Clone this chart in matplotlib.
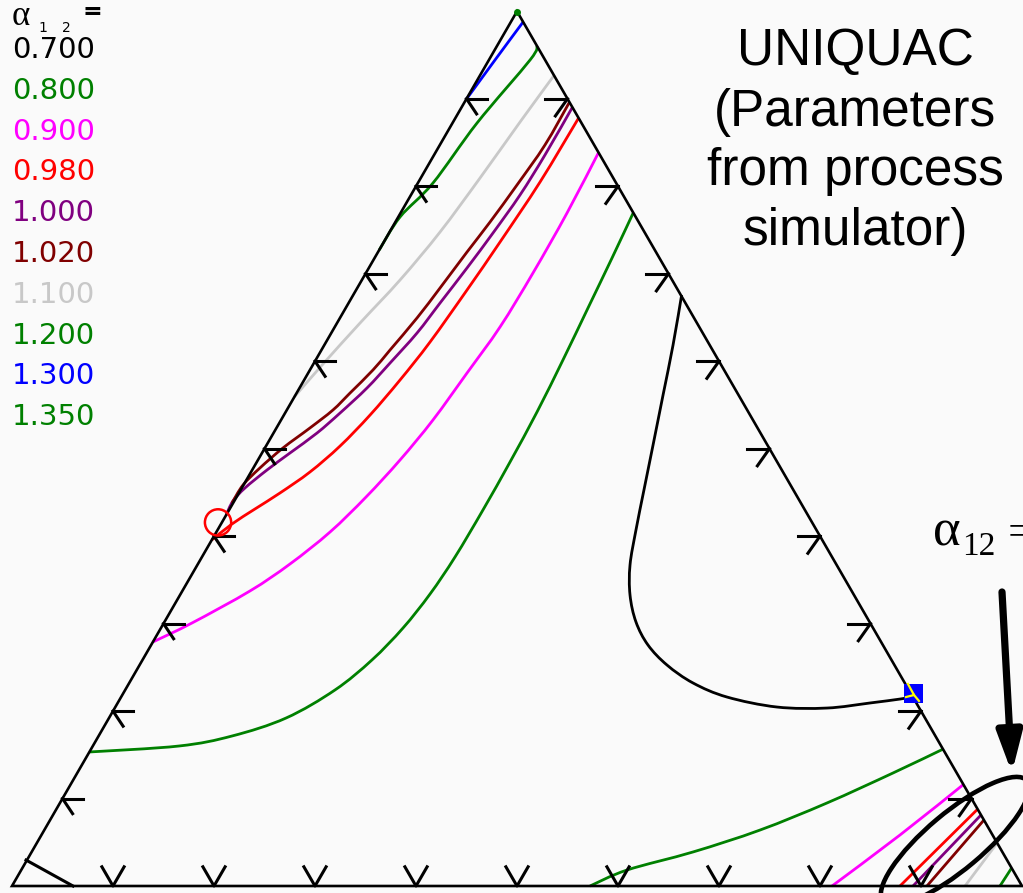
import matplotlib
matplotlib.use("Agg")
import matplotlib.pyplot as plt
from matplotlib.patches import Ellipse, Circle, Rectangle, Polygon, PathPatch
from matplotlib.path import Path

# ---- legend data ----
alpha_labels = ["0.700", "0.800", "0.900", "0.980", "1.000", "1.020", "1.100", "1.200", "1.300", "1.350"]
alpha_colors = ["#000000", "#008000", "#ff00ff", "#ff0000", "#800080", "#800000", "#c8c8c8", "#008000", "#0000ff", "#008000"]

# ---- curves (ternary plot coordinates, side = 100) ----
a0700_x = [66.3, 65.45, 64.46, 63.47, 62.57, 61.78, 61.19, 61.19, 61.78, 62.97, 64.85, 67.43, 70.79, 75.74, 80.69, 84.95, 87.92, 89.11]
a0700_y = [58.51, 53.56, 48.61, 43.66, 39.21, 35.25, 31.78, 28.81, 26.14, 23.86, 21.88, 20.10, 18.71, 17.72, 17.62, 18.12, 18.51, 18.71]

a0800_x = [61.5, 59.41, 57.03, 54.55, 51.98, 49.31, 46.63, 43.86, 41.39, 38.71, 35.64, 31.98, 27.13, 21.78, 16.53, 7.66]
a0800_y = [66.63, 62.18, 57.23, 52.08, 46.93, 41.98, 37.23, 32.57, 28.91, 25.54, 22.38, 19.41, 16.63, 14.85, 13.86, 13.27]
a0800b_x = [92.2, 87.23, 80.69, 74.06, 67.43, 60.89, 57.23]
a0800b_y = [13.56, 11.19, 8.22, 5.54, 3.37, 1.58, 0.0]

a0900_x = [58.1, 54.95, 51.58, 48.32, 45.05, 41.68, 38.42, 35.05, 31.49, 27.52, 23.56, 17.82, 13.95]
a0900_y = [72.67, 66.63, 60.69, 55.35, 50.79, 46.14, 42.18, 38.51, 35.05, 31.88, 29.21, 26.04, 24.16]
a0900b_x = [94.2, 87.92, 81.19]
a0900b_y = [10.05, 5.05, 0.0]

a0980_x = [56.1, 52.28, 48.32, 45.05, 41.39, 38.42, 35.45, 32.48, 29.50, 26.53, 24.06, 21.78, 19.78]
a0980_y = [76.04, 69.70, 63.76, 59.01, 53.86, 50.10, 46.63, 43.56, 40.99, 38.91, 37.33, 35.84, 34.26]
a0980b_x = [95.6, 87.92]
a0980b_y = [7.6, 0.0]

a1000_x = [55.5, 52.77, 50.30, 47.62, 45.05, 42.38, 40.10, 37.43, 35.15, 32.48, 30.20, 27.52, 25.25, 23.07, 21.88, 21.2]
a1000_y = [77.13, 72.38, 68.42, 64.65, 61.19, 57.72, 54.75, 51.78, 49.31, 46.83, 44.85, 42.87, 41.19, 39.41, 38.12, 36.73]
a1000b_x = [95.94, 89.21]
a1000b_y = [7.03, 0.0]

a1020_x = [55.2, 52.77, 50.0, 47.33, 45.05, 42.38, 40.10, 37.43, 35.74, 33.47, 31.78, 29.50, 26.83, 24.55, 22.87, 21.78]
a1020_y = [77.62, 73.37, 69.41, 65.74, 62.77, 59.21, 56.24, 53.07, 51.09, 48.81, 47.13, 45.35, 43.37, 41.39, 39.70, 37.92]
a1020b_x = [96.23, 90.59]
a1020b_y = [6.53, 0.0]

a1100_x = [53.7, 50.30, 46.34, 42.38, 38.42, 34.46, 30.79, 27.95]
a1100_y = [80.30, 75.64, 70.10, 64.75, 60.00, 55.74, 51.68, 48.42]
a1100b_x = [97.54, 94.36]
a1100b_y = [4.26, 0.0]

a1200_x = [52.0, 51.29, 46.04, 41.68, 38.42, 36.36]
a1200_y = [83.17, 81.78, 75.54, 69.60, 66.24, 62.97]
a1200b_x = [98.97, 97.82]
a1200b_y = [1.78, 0.0]

a1300_x = [44.93, 47.82, 50.6]
a1300_y = [77.82, 81.78, 85.54]

a1350_x = [50.0]
a1350_y = [86.5]

# edge arrow ticks at fractions along edges
tick_fracs = [0.1, 0.2, 0.3, 0.4, 0.5, 0.6, 0.7, 0.8, 0.9]


def smooth_path(xs, ys):
    pts = list(zip(xs, ys))
    if len(pts) < 3:
        return Path(pts)
    verts = [pts[0]]
    codes = [Path.MOVETO]
    n = len(pts)
    for i in range(n - 1):
        p0 = pts[i - 1] if i > 0 else pts[i]
        p1 = pts[i]
        p2 = pts[i + 1]
        p3 = pts[i + 2] if i + 2 < n else pts[i + 1]
        c1 = (p1[0] + (p2[0] - p0[0]) / 6.0, p1[1] + (p2[1] - p0[1]) / 6.0)
        c2 = (p2[0] - (p3[0] - p1[0]) / 6.0, p2[1] - (p3[1] - p1[1]) / 6.0)
        verts += [c1, c2, p2]
        codes += [Path.CURVE4] * 3
    return Path(verts, codes)


H = 86.6025
fig = plt.figure(figsize=(10.23, 8.93), dpi=100)
fig.patch.set_facecolor("#fafafa")
ax = fig.add_axes([0, 0, 1, 1])
ax.set_facecolor("#fafafa")
ax.set_xlim(-1.188, 100.099)
ax.set_ylim(-0.693, 87.723)
ax.axis("off")

# triangle
ax.add_patch(Polygon([[0, 0], [100, 0], [50, H]], closed=True, fill=False,
                     edgecolor="black", lw=1.9, zorder=5))

# ticks
for f in tick_fracs:
    lx, ly = 50 * f, H * f
    ax.plot([lx, lx + 2.0], [ly, ly], color="black", lw=2.2, zorder=5)
    ax.plot([lx, lx + 1.0], [ly, ly - 1.5], color="black", lw=2.2, zorder=5)
    rx, ry = 100 - 50 * f, H * f
    ax.plot([rx, rx - 2.2], [ry, ry], color="black", lw=2.2, zorder=5)
    ax.plot([rx, rx - 1.2], [ry, ry - 1.7], color="black", lw=2.2, zorder=5)
    bx = 100 * f
    ax.plot([bx - 1.1, bx, bx + 1.1], [1.9, 0, 1.9], color="black", lw=2.2, zorder=5)

# corner mark at left vertex
ax.plot([1.39, 6.04], [2.57, 0.0], color="black", lw=2.2, zorder=5)

curves = [
    (a0700_x, a0700_y, 0), (a0800_x, a0800_y, 1), (a0800b_x, a0800b_y, 1),
    (a0900_x, a0900_y, 2), (a0900b_x, a0900b_y, 2),
    (a0980_x, a0980_y, 3), (a0980b_x, a0980b_y, 3),
    (a1000_x, a1000_y, 4), (a1000b_x, a1000b_y, 4),
    (a1020_x, a1020_y, 5), (a1020b_x, a1020b_y, 5),
    (a1100_x, a1100_y, 6), (a1100b_x, a1100b_y, 6),
    (a1200_x, a1200_y, 7), (a1200b_x, a1200b_y, 7),
    (a1300_x, a1300_y, 8),
]
for xs, ys, ci in curves:
    ax.add_patch(PathPatch(smooth_path(xs, ys), fill=False, edgecolor=alpha_colors[ci],
                           lw=2.0, zorder=4, capstyle="butt"))
ax.plot(a1350_x, a1350_y, "o", color=alpha_colors[9], ms=4, zorder=6)

# markers: red circle, blue square with yellow
ax.add_patch(Circle((20.4, 36.0), 1.3, fill=False, edgecolor="red", lw=1.8, zorder=6))
ax.add_patch(Rectangle((88.32, 18.12), 1.85, 1.9, facecolor="#0000ff", edgecolor="none", zorder=6))
ax.plot([88.71, 89.31, 88.51], [20.0, 18.91, 18.71], color="yellow", lw=1.6, zorder=7)
ax.plot([89.31, 89.80], [18.91, 18.32], color="yellow", lw=1.6, zorder=7)

# ellipse and arrow
ax.add_patch(Ellipse((93.37, 4.45), 18.6, 5.6, angle=40, fill=False, edgecolor="black", lw=3.3, zorder=8))
ax.annotate("", xy=(99.0, 11.2), xytext=(98.02, 29.11),
            arrowprops=dict(arrowstyle="-|>,head_length=2.4,head_width=0.75", lw=5.2, color="black",
                            shrinkA=0, shrinkB=0), zorder=8)

# right annotation text
ax.text(91.2, 33.76, "α", fontsize=38, family="Liberation Serif",
        ha="left", va="baseline", color="black", zorder=9)
ax.text(94.1, 32.77, "12", fontsize=24, family="Liberation Serif",
        ha="left", va="baseline", color="black", zorder=9)
ax.text(98.6, 33.76, "=", fontsize=34, family="Liberation Serif",
        ha="left", va="baseline", color="black", zorder=9)

# legend header
ax.text(0.0, 85.25, "α", fontsize=25, family="Liberation Serif", ha="left", va="baseline")
ax.text(2.57, 84.55, "1", fontsize=10, family="DejaVu Sans", ha="left", va="baseline")
ax.text(4.95, 84.55, "2", fontsize=10, family="DejaVu Sans", ha="left", va="baseline")
ax.text(7.0, 85.84, "=", fontsize=17, family="DejaVu Sans", weight="bold", ha="left", va="baseline")

for i, (lab, col) in enumerate(zip(alpha_labels, alpha_colors)):
    base_px = 58 + 40.8 * i
    ax.text(0.0, (886 - base_px) / 10.1, lab, fontsize=21, family="DejaVu Sans",
            color=col, ha="left", va="baseline")

# title block
title_lines = ["UNIQUAC", "(Parameters", "from process", "simulator)"]
title_base_px = [65, 126, 185, 245]
for t, b in zip(title_lines, title_base_px):
    ax.text(83.47, (886 - b) / 10.1, t, fontsize=37, family="Liberation Sans",
            ha="center", va="baseline", color="black")

fig.savefig("out.png", dpi=100, facecolor=fig.get_facecolor())
